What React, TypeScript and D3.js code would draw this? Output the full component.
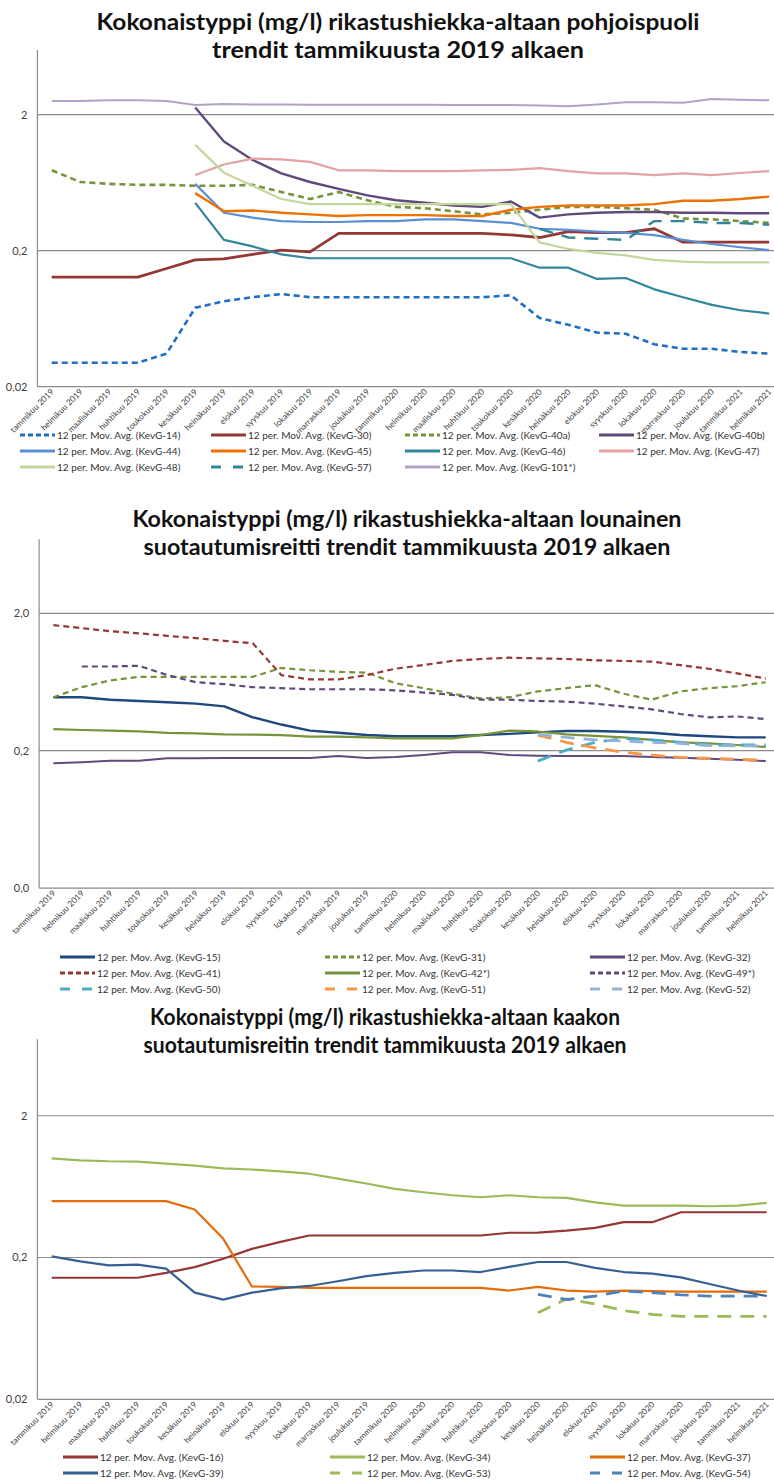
import React from "react";
import * as d3 from "d3";

// Month categories shared by all three charts
const months = [
  "tammikuu 2019", "helmikuu 2019", "maaliskuu 2019", "huhtikuu 2019", "toukokuu 2019",
  "kesäkuu 2019", "heinäkuu 2019", "elokuu 2019", "syyskuu 2019", "lokakuu 2019",
  "marraskuu 2019", "joulukuu 2019", "tammikuu 2020", "helmikuu 2020", "maaliskuu 2020",
  "huhtikuu 2020", "toukokuu 2020", "kesäkuu 2020", "heinäkuu 2020", "elokuu 2020",
  "syyskuu 2020", "lokakuu 2020", "marraskuu 2020", "joulukuu 2020", "tammikuu 2021",
  "helmikuu 2021",
];

const _ = null;

// --- Chart 1: pohjoispuoli (12 per. moving averages, mg/l) ---
const kevg14 = [0.030, 0.030, 0.030, 0.030, 0.035, 0.076, 0.085, 0.091, 0.096, 0.091, 0.091, 0.091, 0.091, 0.091, 0.091, 0.091, 0.094, 0.064, 0.057, 0.050, 0.049, 0.041, 0.038, 0.038, 0.036, 0.035];
const kevg30 = [0.128, 0.128, 0.128, 0.128, 0.148, 0.171, 0.174, 0.188, 0.202, 0.196, 0.268, 0.268, 0.268, 0.268, 0.268, 0.268, 0.261, 0.250, 0.276, 0.272, 0.272, 0.290, 0.231, 0.231, 0.231, 0.231];
const kevg40a = [0.78, 0.64, 0.62, 0.61, 0.61, 0.60, 0.60, 0.61, 0.54, 0.48, 0.54, 0.47, 0.42, 0.41, 0.39, 0.37, 0.38, 0.40, 0.42, 0.42, 0.41, 0.40, 0.345, 0.34, 0.33, 0.32];
const kevg40b = [_, _, _, _, _, 2.26, 1.27, 0.93, 0.74, 0.64, 0.57, 0.51, 0.47, 0.45, 0.43, 0.42, 0.46, 0.35, 0.37, 0.38, 0.385, 0.385, 0.38, 0.38, 0.377, 0.377];
const kevg44 = [_, _, _, _, _, 0.62, 0.38, 0.35, 0.33, 0.325, 0.325, 0.33, 0.33, 0.34, 0.34, 0.33, 0.32, 0.29, 0.285, 0.276, 0.27, 0.26, 0.24, 0.224, 0.212, 0.202];
const kevg45 = [_, _, _, _, _, 0.53, 0.39, 0.395, 0.38, 0.37, 0.36, 0.365, 0.365, 0.365, 0.36, 0.36, 0.40, 0.42, 0.43, 0.43, 0.43, 0.44, 0.466, 0.466, 0.48, 0.50];
const kevg46 = [_, _, _, _, _, 0.45, 0.24, 0.215, 0.188, 0.176, 0.176, 0.176, 0.176, 0.176, 0.176, 0.176, 0.176, 0.150, 0.150, 0.124, 0.126, 0.104, 0.091, 0.080, 0.073, 0.069];
const kevg47 = [_, _, _, _, _, 0.72, 0.86, 0.95, 0.94, 0.90, 0.78, 0.78, 0.77, 0.77, 0.77, 0.78, 0.785, 0.81, 0.77, 0.74, 0.74, 0.72, 0.74, 0.72, 0.745, 0.77];
const kevg48 = [_, _, _, _, _, 1.20, 0.75, 0.60, 0.48, 0.44, 0.44, 0.44, 0.44, 0.44, 0.44, 0.44, 0.44, 0.23, 0.206, 0.193, 0.185, 0.171, 0.166, 0.164, 0.164, 0.164];
const kevg57 = [_, _, _, _, _, _, _, _, _, _, _, _, _, _, _, _, _, 0.29, 0.25, 0.245, 0.24, 0.33, 0.33, 0.32, 0.32, 0.31];
const kevg101 = [2.52, 2.52, 2.55, 2.55, 2.52, 2.36, 2.40, 2.38, 2.38, 2.37, 2.37, 2.37, 2.37, 2.37, 2.36, 2.36, 2.36, 2.34, 2.31, 2.38, 2.47, 2.47, 2.45, 2.61, 2.58, 2.55];

// --- Chart 2: lounainen suotautumisreitti ---
const kevg15 = [0.49, 0.49, 0.47, 0.46, 0.45, 0.44, 0.42, 0.35, 0.31, 0.28, 0.27, 0.26, 0.255, 0.255, 0.255, 0.26, 0.265, 0.272, 0.278, 0.278, 0.275, 0.27, 0.26, 0.255, 0.25, 0.25];
const kevg31 = [0.49, 0.58, 0.65, 0.69, 0.69, 0.69, 0.69, 0.69, 0.80, 0.77, 0.75, 0.74, 0.62, 0.57, 0.52, 0.48, 0.49, 0.54, 0.57, 0.60, 0.52, 0.47, 0.54, 0.57, 0.59, 0.63];
const kevg32 = [0.162, 0.165, 0.169, 0.169, 0.176, 0.176, 0.177, 0.177, 0.177, 0.177, 0.183, 0.177, 0.18, 0.186, 0.195, 0.195, 0.186, 0.184, 0.183, 0.183, 0.183, 0.18, 0.178, 0.175, 0.172, 0.168];
const kevg41 = [1.64, 1.56, 1.48, 1.43, 1.37, 1.32, 1.26, 1.21, 0.71, 0.66, 0.66, 0.71, 0.79, 0.84, 0.90, 0.93, 0.95, 0.94, 0.93, 0.91, 0.90, 0.89, 0.84, 0.79, 0.73, 0.67];
const kevg42 = [0.287, 0.283, 0.28, 0.276, 0.27, 0.267, 0.263, 0.262, 0.26, 0.253, 0.253, 0.25, 0.246, 0.246, 0.246, 0.26, 0.28, 0.276, 0.263, 0.256, 0.25, 0.24, 0.23, 0.226, 0.22, 0.213];
const kevg49 = [_, 0.82, 0.82, 0.83, 0.71, 0.63, 0.61, 0.58, 0.57, 0.56, 0.56, 0.56, 0.55, 0.53, 0.51, 0.47, 0.47, 0.46, 0.455, 0.44, 0.42, 0.40, 0.37, 0.35, 0.355, 0.34];
const kevg50 = [_, _, _, _, _, _, _, _, _, _, _, _, _, _, _, _, _, 0.168, 0.202, 0.23, 0.245, 0.24, 0.23, 0.22, 0.22, 0.22];
const kevg51 = [_, _, _, _, _, _, _, _, _, _, _, _, _, _, _, _, _, 0.26, 0.23, 0.21, 0.195, 0.186, 0.179, 0.176, 0.173, 0.171];
const kevg52 = [_, _, _, _, _, _, _, _, _, _, _, _, _, _, _, _, _, 0.263, 0.25, 0.24, 0.235, 0.23, 0.226, 0.218, 0.217, 0.217];

// --- Chart 3: kaakon suotautumisreitti ---
const kevg16 = [0.144, 0.144, 0.144, 0.144, 0.156, 0.171, 0.196, 0.23, 0.258, 0.286, 0.286, 0.286, 0.286, 0.286, 0.286, 0.286, 0.299, 0.30, 0.31, 0.324, 0.355, 0.355, 0.417, 0.417, 0.417, 0.417];
const kevg34 = [1.0, 0.97, 0.955, 0.95, 0.92, 0.89, 0.85, 0.835, 0.81, 0.78, 0.72, 0.665, 0.61, 0.577, 0.55, 0.532, 0.55, 0.532, 0.527, 0.49, 0.465, 0.465, 0.465, 0.46, 0.465, 0.486];
const kevg37 = [0.50, 0.50, 0.50, 0.50, 0.50, 0.436, 0.271, 0.125, 0.124, 0.122, 0.122, 0.122, 0.122, 0.122, 0.122, 0.122, 0.117, 0.124, 0.117, 0.115, 0.117, 0.116, 0.115, 0.115, 0.115, 0.115];
const kevg39 = [0.204, 0.188, 0.176, 0.178, 0.167, 0.113, 0.101, 0.113, 0.121, 0.126, 0.136, 0.148, 0.156, 0.162, 0.162, 0.158, 0.172, 0.186, 0.186, 0.169, 0.158, 0.154, 0.145, 0.13, 0.117, 0.107];
const kevg53 = [_, _, _, _, _, _, _, _, _, _, _, _, _, _, _, _, _, 0.0815, 0.102, 0.094, 0.0845, 0.0793, 0.077, 0.077, 0.077, 0.077];
const kevg54 = [_, _, _, _, _, _, _, _, _, _, _, _, _, _, _, _, _, 0.11, 0.101, 0.107, 0.116, 0.113, 0.109, 0.107, 0.107, 0.107];

// Tick values and labels per chart (log axis)
const tickValues = [0.02, 0.2, 2];
const tickLabels1 = ["0,02", "0,2", "2"];
const tickLabels2 = ["0,0", "0,2", "2,0"];
const tickLabels3 = ["0,02", "0,2", "2"];

type Series = {
  name: string;
  values: (number | null)[];
  color: string;
  width: number;
  dash?: string;
};

const lbl = (id: string) => `12 per. Mov. Avg. (${id})`;

const SHORT = "6,4";
const LONG = "14,9";

const series1: Series[] = [
  { name: lbl("KevG-14"), values: kevg14, color: "#1F6FC5", width: 2.6, dash: SHORT },
  { name: lbl("KevG-30"), values: kevg30, color: "#953735", width: 2.8 },
  { name: lbl("KevG-40a"), values: kevg40a, color: "#77933C", width: 2.6, dash: SHORT },
  { name: lbl("KevG-40b"), values: kevg40b, color: "#5F4A7B", width: 2.4 },
  { name: lbl("KevG-44"), values: kevg44, color: "#5A8FD6", width: 2.2 },
  { name: lbl("KevG-45"), values: kevg45, color: "#EE7203", width: 2.4 },
  { name: lbl("KevG-46"), values: kevg46, color: "#31869B", width: 2.2 },
  { name: lbl("KevG-47"), values: kevg47, color: "#E2A3A2", width: 2.2 },
  { name: lbl("KevG-48"), values: kevg48, color: "#C4D79B", width: 2.2 },
  { name: lbl("KevG-57"), values: kevg57, color: "#31869B", width: 2.4, dash: LONG },
  { name: lbl("KevG-101*"), values: kevg101, color: "#B3A2C7", width: 2 },
];

const series2: Series[] = [
  { name: lbl("KevG-15"), values: kevg15, color: "#1F497D", width: 2.4 },
  { name: lbl("KevG-31"), values: kevg31, color: "#77933C", width: 2.2, dash: SHORT },
  { name: lbl("KevG-32"), values: kevg32, color: "#604A7B", width: 2 },
  { name: lbl("KevG-41"), values: kevg41, color: "#953735", width: 2.2, dash: SHORT },
  { name: lbl("KevG-42*"), values: kevg42, color: "#77933C", width: 2.2 },
  { name: lbl("KevG-49*"), values: kevg49, color: "#604A7B", width: 2.2, dash: SHORT },
  { name: lbl("KevG-50"), values: kevg50, color: "#4BACC6", width: 2.8, dash: LONG },
  { name: lbl("KevG-51"), values: kevg51, color: "#F79646", width: 2.8, dash: LONG },
  { name: lbl("KevG-52"), values: kevg52, color: "#95B3D7", width: 2.8, dash: LONG },
];

const series3: Series[] = [
  { name: lbl("KevG-16"), values: kevg16, color: "#953735", width: 2.2 },
  { name: lbl("KevG-34"), values: kevg34, color: "#9BBB59", width: 2.2 },
  { name: lbl("KevG-37"), values: kevg37, color: "#E46C0A", width: 2.2 },
  { name: lbl("KevG-39"), values: kevg39, color: "#376092", width: 2.2 },
  { name: lbl("KevG-53"), values: kevg53, color: "#9BBB59", width: 2.8, dash: LONG },
  { name: lbl("KevG-54"), values: kevg54, color: "#4F81BD", width: 2.8, dash: LONG },
];

type Layout = {
  titleLines: string[];
  titleWidths: number[];
  titleX: number;
  titleY: number;
  left: number;
  right: number;
  top: number;
  bottom: number;
  yMax: number;
  tickLabels: string[];
  legendY: number;
  legendCols: number[];
  legendPerRow: number;
};

const FONT = "Lato, 'Open Sans', 'DejaVu Sans', sans-serif";

function LineChart({ layout, series }: { layout: Layout; series: Series[] }) {
  const x = d3.scalePoint<string>().domain(months).range([layout.left, layout.right]).padding(0.5);
  const y = d3.scaleLog().domain([0.02, layout.yMax]).range([layout.bottom, layout.top]);

  const line = d3
    .line<number | null>()
    .defined((d) => d != null)
    .x((_d, i) => x(months[i]) as number)
    .y((d) => y(d as number));

  return (
    <g>
      {layout.titleLines.map((t, i) => (
        <text
          key={t}
          x={layout.titleX}
          y={layout.titleY + i * 28}
          textAnchor="middle"
          fontFamily={FONT}
          fontWeight="bold"
          fontSize={23}
          textLength={layout.titleWidths[i]}
          lengthAdjust="spacingAndGlyphs"
          fill="#111"
        >
          {t}
        </text>
      ))}

      {/* horizontal gridlines at 0.2 and 2 */}
      {tickValues.slice(1).map((t) => (
        <line key={t} x1={layout.left} x2={layout.right} y1={y(t)} y2={y(t)} stroke="#8c8c8c" strokeWidth={1.2} />
      ))}

      {/* axes */}
      <line x1={layout.left} x2={layout.left} y1={layout.top} y2={layout.bottom} stroke="#8c8c8c" strokeWidth={1.2} />
      <line x1={layout.left} x2={layout.right} y1={layout.bottom} y2={layout.bottom} stroke="#8c8c8c" strokeWidth={1.2} />

      {tickValues.map((t, i) => (
        <text
          key={t}
          x={layout.left - 10}
          y={y(t)}
          dy="0.35em"
          textAnchor="end"
          fontFamily={FONT}
          fontSize={11}
          fill="#404040"
        >
          {layout.tickLabels[i]}
        </text>
      ))}

      {months.map((m) => (
        <text
          key={m}
          transform={`translate(${(x(m) as number) + 1},${layout.bottom + 4}) rotate(-45)`}
          textAnchor="end"
          dy="0.3em"
          fontFamily={FONT}
          fontSize={8.3}
          fill="#404040"
        >
          {m}
        </text>
      ))}

      {series.map((s) => (
        <path
          key={s.name}
          d={line(s.values) || ""}
          fill="none"
          stroke={s.color}
          strokeWidth={s.width}
          strokeDasharray={s.dash}
          strokeLinejoin="round"
        />
      ))}

      {series.map((s, i) => {
        const col = i % layout.legendPerRow;
        const row = Math.floor(i / layout.legendPerRow);
        const lx = layout.legendCols[col];
        const ly = layout.legendY + row * 16;
        return (
          <g key={"lg" + s.name}>
            <line
              x1={lx}
              x2={lx + 35}
              y1={ly}
              y2={ly}
              stroke={s.color}
              strokeWidth={3}
              strokeDasharray={s.dash ? (s.dash === LONG ? "10,12" : "5,3") : undefined}
            />
            <text x={lx + 37} y={ly} dy="0.35em" fontFamily={FONT} fontSize={10} fill="#333">
              {s.name}
            </text>
          </g>
        );
      })}
    </g>
  );
}

const layout1: Layout = {
  titleLines: ["Kokonaistyppi (mg/l) rikastushiekka-altaan pohjoispuoli", "trendit tammikuusta 2019 alkaen"],
  titleWidths: [603, 372],
  titleX: 398,
  titleY: 30,
  left: 37.4,
  right: 783.5,
  top: 50,
  bottom: 386.7,
  yMax: 5.98,
  tickLabels: tickLabels1,
  legendY: 435,
  legendCols: [20, 211, 405, 599],
  legendPerRow: 4,
};

const layout2: Layout = {
  titleLines: ["Kokonaistyppi (mg/l) rikastushiekka-altaan lounainen", "suotautumisreitti trendit tammikuusta 2019 alkaen"],
  titleWidths: [549, 527],
  titleX: 407,
  titleY: 527,
  left: 39.1,
  right: 780,
  top: 539.3,
  bottom: 888.1,
  yMax: 6.91,
  tickLabels: tickLabels2,
  legendY: 957,
  legendCols: [60, 325, 590],
  legendPerRow: 3,
};

const layout3: Layout = {
  titleLines: ["Kokonaistyppi (mg/l) rikastushiekka-altaan kaakon", "suotautumisreitin trendit tammikuusta 2019 alkaen"],
  titleWidths: [470, 483],
  titleX: 385,
  titleY: 1025,
  left: 37.4,
  right: 781,
  top: 1039.3,
  bottom: 1399.3,
  yMax: 6.92,
  tickLabels: tickLabels3,
  legendY: 1457,
  legendCols: [63, 330, 590],
  legendPerRow: 3,
};

export default function App() {
  return (
    <svg
      width={774}
      height={1482}
      viewBox="0 0 774 1482"
      style={{ position: "absolute", left: 0, top: 0, background: "#fff" }}
    >
      <rect width={774} height={1482} fill="#fff" />
      <LineChart layout={layout1} series={series1} />
      <LineChart layout={layout2} series={series2} />
      <LineChart layout={layout3} series={series3} />
    </svg>
  );
}
